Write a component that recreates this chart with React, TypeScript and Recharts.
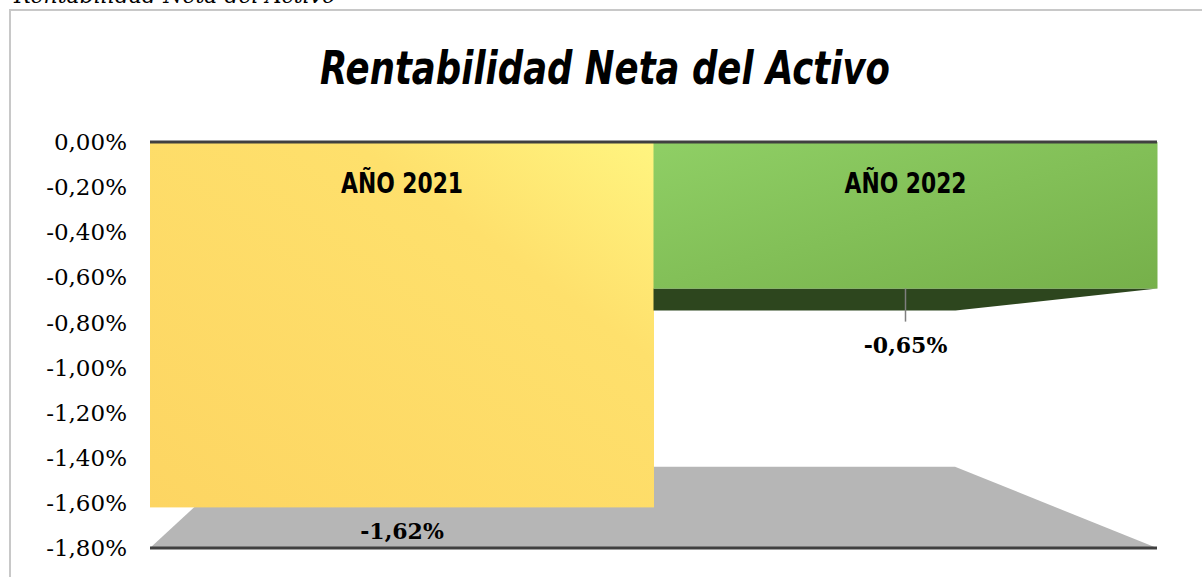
import { BarChart, Bar, XAxis, YAxis, ReferenceLine, ReferenceArea } from 'recharts';

const years = ['AÑO 2021', 'AÑO 2022'];
const rna = [-1.62, -0.65];
const yTicks = [0, -0.2, -0.4, -0.6, -0.8, -1, -1.2, -1.4, -1.6, -1.8];
const floorBack = -1.44; // back edge of the grey 3D floor

const data = years.map((year, i) => ({ year, value: rna[i] }));

const fmt = (v: number) => v.toFixed(2).replace('.', ',') + '%';

const serif = "'DejaVu Serif', serif";

// grey floor drawn as a trapezoid inside the reference area
const Floor = (props: any) => {
  const { x, y, width, height } = props;
  const pts = `${x},${y + height} ${x + 88},${y} ${x + width - 202},${y} ${x + width},${y + height}`;
  return <polygon points={pts} fill="#b6b6b6" />;
};

const BarShape = (props: any) => {
  const { x, y, width, height, index, payload } = props;
  const top = Math.min(y, y + height);
  const bottom = Math.max(y, y + height);
  const cx = x + width / 2;
  const id = `rnaGrad${index}`;
  const first = index === 0;
  return (
    <g>
      <defs>
        {first ? (
          <linearGradient id={id} x1="1" y1="0" x2="0" y2="1">
            <stop offset="0" stopColor="#fff580" />
            <stop offset="0.3" stopColor="#fee06c" />
            <stop offset="1" stopColor="#fdd562" />
          </linearGradient>
        ) : (
          <linearGradient id={id} x1="0" y1="0" x2="1" y2="1">
            <stop offset="0" stopColor="#8fcf65" />
            <stop offset="1" stopColor="#76b04a" />
          </linearGradient>
        )}
      </defs>
      {!first && (
        <polygon
          points={`${x},${bottom} ${x + width},${bottom} ${x + width - 202},${bottom + 22} ${x},${bottom + 22}`}
          fill="#2d461e"
        />
      )}
      <rect x={x} y={top} width={width} height={bottom - top} fill={`url(#${id})`} />
      <text
        x={cx}
        y={top + 51}
        textAnchor="middle"
        textLength={122}
        lengthAdjust="spacingAndGlyphs"
        fontFamily="'Liberation Sans Narrow', 'DejaVu Sans Condensed', sans-serif"
        fontWeight="bold"
        fontSize={28}
        fill="#000"
      >
        {payload.year}
      </text>
      {!first && <line x1={cx} y1={bottom} x2={cx} y2={bottom + 33} stroke="#7f7f7f" strokeWidth={1.5} />}
      <text
        x={cx}
        y={first ? bottom + 24 : bottom + 56}
        textAnchor="middle"
        dominantBaseline="central"
        fontFamily={serif}
        fontWeight="bold"
        fontSize={22}
        fill="#000"
      >
        {fmt(payload.value)}
      </text>
    </g>
  );
};

export default function App() {
  return (
    <div style={{ position: 'absolute', left: 0, top: 0, width: 1202, height: 577, overflow: 'hidden', background: '#fff' }}>
      <div
        style={{
          position: 'absolute',
          left: 9,
          top: 9,
          width: 1210,
          height: 590,
          border: '2px solid #c8c8c8',
        }}
      />
      <svg width={1202} height={577} style={{ position: 'absolute', left: 0, top: 0 }}>
        <text x={14} y={3} fontFamily={serif} fontStyle="italic" fontSize={22} fill="#000">
          Rentabilidad Neta del Activo
        </text>
        <text
          x={605}
          y={84}
          textAnchor="middle"
          textLength={570}
          lengthAdjust="spacingAndGlyphs"
          fontFamily="'DejaVu Sans', sans-serif"
          fontWeight="bold"
          fontStyle="italic"
          fontSize={46}
          fill="#000"
        >
          Rentabilidad Neta del Activo
        </text>
      </svg>
      <div style={{ position: 'absolute', left: 0, top: 0 }}>
        <BarChart
          width={1202}
          height={577}
          data={data}
          barCategoryGap={0}
          margin={{ top: 142, right: 45, bottom: 29, left: 0 }}
        >
          <XAxis dataKey="year" hide />
          <YAxis
            domain={[-1.8, 0]}
            ticks={yTicks}
            interval={0}
            width={150}
            axisLine={false}
            tickLine={false}
            tickSize={0}
            tickMargin={23}
            tickFormatter={fmt}
            tick={{ fill: '#000', fontSize: 23, fontFamily: serif }}
          />
          <ReferenceArea y1={-1.8} y2={floorBack} shape={Floor} />
          <Bar dataKey="value" shape={BarShape} isAnimationActive={false} />
          <ReferenceLine y={0} stroke="#404040" strokeWidth={3} />
          <ReferenceLine y={-1.8} stroke="#404040" strokeWidth={3} />
        </BarChart>
      </div>
    </div>
  );
}
